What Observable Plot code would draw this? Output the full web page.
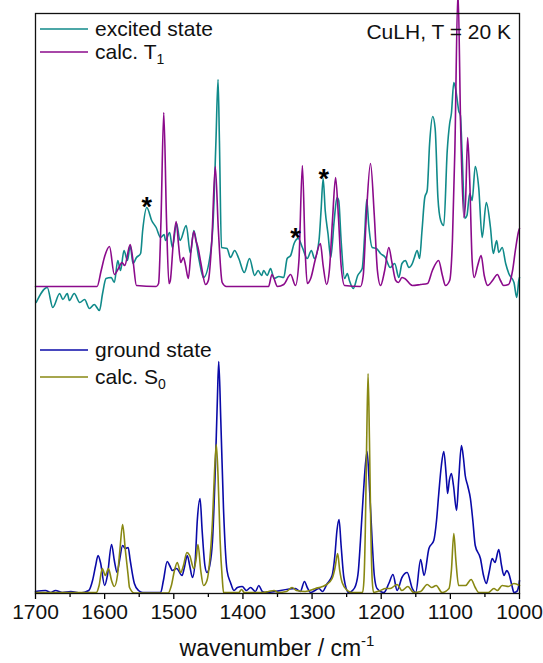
<!DOCTYPE html>
<html>
<head>
<meta charset="utf-8">
<script src="https://cdn.jsdelivr.net/npm/d3@7"></script>
<script src="https://cdn.jsdelivr.net/npm/@observablehq/plot@0.6"></script>
<style>
  html, body { margin: 0; padding: 0; background: #fff; }
  svg { font-family: "Liberation Sans", Arial, sans-serif; }
</style>
</head>
<body>
<div id="chart"></div>
<script>
// ---------- data (wavenumber / cm-1, intensity in arbitrary units; offsets included) ----------
const excitedWn = [1699,1683,1675,1665,1660.5,1654,1651,1644,1636,1629,1622,1615,1607.5,1603,1598,1590.5,1586,1581,1577,1572,1567,1563,1559,1554,1548,1545,1539,1532,1525.5,1519,1514,1512,1506,1502,1496,1491,1482,1476,1471,1464,1457,1447,1443,1439,1436,1434,1431,1423,1418,1412,1406,1398,1390.5,1383,1378,1373,1370,1365,1360,1355,1348,1341,1336,1331,1326,1320,1314,1307,1301,1296.5,1290,1287,1284,1281,1277,1273,1268,1264,1261.5,1258,1253,1249,1246,1240.5,1234,1227.5,1224,1221,1218,1213,1207,1201,1194,1187,1180.5,1174.5,1170,1165,1160,1155,1152,1148,1144.5,1141,1137,1133.5,1130,1125.5,1122,1118,1114,1109.5,1104.5,1101,1098.5,1095,1092.5,1090,1088,1085.5,1083,1079,1076,1072,1068.5,1064,1059,1054,1048,1042,1038,1033,1030,1025,1020,1015.5,1008,1004,1001,1000];
const excitedV  = [291,306,286,300,294,300,293,300,291,294,285,289,283,300,315,316,311,333,323,343,333,348,330,336,340,363,386,373,366,356,359,353,361,346,370,353,368,340,363,336,316,340,373,453,514,453,346,345,336,343,335,321,335,318,323,318,323,318,325,315,317,316,335,338,350,355,346,335,343,335,353,383,415,383,360,336,373,396,393,353,315,320,313,305,318,325,358,394,368,346,345,340,336,326,330,316,330,333,326,330,336,343,335,363,396,403,450,477,465,396,373,368,443,470,480,511,505,493,483,478,440,375,378,400,393,427,406,356,391,366,340,353,341,346,330,320,311,296,313,316];

const t1Wn = [1700,1611,1605,1600,1593,1586,1580,1575,1571,1563,1559,1554,1525.5,1522,1518.5,1514.5,1510.5,1507,1505,1501,1496.5,1493,1490,1486,1483,1479,1475,1471,1468,1465,1461,1454,1450,1445,1440,1435.5,1430,1424,1363,1358,1350,1341,1331,1324,1319,1314,1310,1307,1302,1295,1288,1284,1279,1275,1270.5,1266,1262,1258,1253,1230,1226,1221.5,1215.5,1210,1205.5,1201,1195,1189,1184.5,1179,1175,1170,1166,1155,1143,1133,1126,1117,1111.5,1107,1101,1097,1093.5,1089,1085,1080.5,1078,1075,1072,1068.5,1065.5,1060.5,1055.5,1051,1046,1039,1032,1027.5,1023,1016,1010,1006,1001,1000];
const t1V  = [307,307,323,337,347,319,325,331,328,349,333,308,307,310,373,481,373,310,313,348,372,348,331,336,328,315,343,362,353,346,331,309,313,353,427,363,311,307,307,319,307,309,319,308,333,428,343,310,315,335,350,328,309,323,373,416,378,328,308,307,318,378,430,378,323,308,323,346,331,313,311,316,315,308,309,310,323,333,318,308,313,353,443,603,463,376,393,456,413,333,316,328,338,318,308,313,319,313,308,309,323,343,363,365];

const groundWn = [1700,1685.5,1678,1671,1661,1649,1635,1623,1617.5,1613,1609.5,1606,1600,1596,1590,1586,1582,1578.5,1574,1570,1566,1563,1557,1551,1545,1519,1515,1509.5,1506,1502,1496,1488,1485,1480.5,1477,1473,1469,1466,1462,1459,1455,1452,1448,1444,1440,1437,1435,1432,1428,1423,1418,1413,1408,1401,1395,1389,1382,1377,1372,1367,1324,1317,1311,1307,1302,1290,1285,1278,1271,1267,1264,1261,1258,1254,1247,1241.5,1237,1233,1230,1226,1220.5,1217.5,1213,1210,1206,1196,1189,1183,1177,1170,1162.5,1155,1150,1143,1138,1131,1124,1120,1117,1113,1109.5,1106,1104,1101.5,1098.5,1095.5,1091,1088,1084,1081,1078.5,1075,1071,1067.5,1064,1056.5,1052,1048,1044,1039.5,1035.5,1030,1026,1022.5,1018.5,1015.5,1011,1008,1004,1001,1000];
const groundV  = [2,3,1,3,1,2,0.5,3,13,28,38,31,8,18,49,33,21,33,48,45,46,33,10,3,1,1,13,32,28,23,25,18,25,38,28,16,33,73,95,63,28,21,28,53,123,193,232,173,83,23,11,3,6,7,3,6,2,8,2,1,5,2,12,6,1,5,2,10,18,38,63,74,48,16,1,3,8,23,53,98,142,113,51,18,5,1,10,19,3,16,21,5,1,34,18,45,53,73,98,128,142,118,100,113,120,108,83,113,148,135,118,108,95,73,48,35,18,10,21,35,31,44,28,18,23,20,8,1,2,8,13];

const s0Wn = [1700,1612,1608,1603.5,1599,1594.5,1590,1586,1581.5,1578,1574,1570,1566,1564,1557,1508,1503.5,1499,1495,1490,1486,1481,1477,1471,1468,1465,1461,1457,1452,1448,1444,1441,1438.5,1436,1433,1430,1428,1406,1402,1398,1372,1363,1355,1349,1337,1329,1322.5,1310,1295,1285,1279,1271,1267,1263,1260,1256.5,1249,1242,1227,1225,1223,1221,1219,1217,1215,1213,1211,1201,1194,1187,1177,1170,1161.5,1153,1143,1133.5,1127,1120.5,1112,1102,1098.5,1095,1092,1088,1078,1070,1064,1059,1045,1037,1032,1025,1016,1008,1000];
const s0V  = [1,1,8,25,18,25,13,7,18,43,69,43,18,6,0.5,0.5,8,23,31,21,28,41,38,25,33,49,23,8,13,33,73,123,149,118,53,16,1,1,4,1,1,2,3,1,2,6,3,2,5,7,9,15,25,40,23,11,3,1,1,13,63,153,220,153,63,13,1,3,5,5,9,3,7,1,2,9,6,8,1,5,23,60,33,8,8,14,6,1,1,5,3,8,7,10,8];

// asterisk annotations
const starWn = [1539, 1324, 1283];
const starV  = [393, 362, 421];

// legend / labels
const legendTop    = ["excited state", "calc. T", "1"];
const legendBottom = ["ground state", "calc. S", "0"];
const sampleLabel  = "CuLH, T = 20 K";
const xLabel = ["wavenumber / cm", "-1"];
const majorTicks = [1700,1600,1500,1400,1300,1200,1100,1000];
const minorTicks = [1650,1550,1450,1350,1250,1150,1050];

const colors = { excited: "#108a8a", t1: "#8b0a8b", ground: "#0a0aa8", s0: "#888812" };

// ---------- tables ----------
const toRows = (wn, v) => wn.map((w, i) => ({ wn: w, v: v[i] }));
const excited = toRows(excitedWn, excitedV);
const t1 = toRows(t1Wn, t1V);
const ground = toRows(groundWn, groundV);
const s0 = toRows(s0Wn, s0V);
const stars = toRows(starWn, starV);

const W = 543, H = 663;
const mL = 35, mR = 24, mT = 13, mB = 70;
const lw = 1.6;

const chart = Plot.plot({
  width: W, height: H,
  marginLeft: mL, marginRight: mR, marginTop: mT, marginBottom: mB,
  style: { fontFamily: "Liberation Sans, Arial, sans-serif", background: "white", overflow: "visible" },
  x: { domain: [1700, 1000] },
  y: { domain: [0, 580], axis: null },
  marks: [
    Plot.line(excited, { x: "wn", y: "v", stroke: colors.excited, strokeWidth: lw, curve: "monotone-x" }),
    Plot.line(t1, { x: "wn", y: "v", stroke: colors.t1, strokeWidth: lw, curve: "monotone-x" }),
    Plot.line(ground, { x: "wn", y: "v", stroke: colors.ground, strokeWidth: lw, curve: "monotone-x" }),
    Plot.line(s0, { x: "wn", y: "v", stroke: colors.s0, strokeWidth: lw, curve: "monotone-x" }),
    Plot.text(stars, { x: "wn", y: "v", text: () => "*", fontSize: 27, fontWeight: "bold", fill: "black", dy: 7 }),
    Plot.axisX({ ticks: minorTicks, tickSize: 4, tickFormat: null, text: null, label: null, strokeWidth: 1.3 }),
    Plot.axisX({ ticks: majorTicks, tickSize: 6, tickPadding: 5, tickFormat: d => String(d), fontSize: 21, label: null, strokeWidth: 1.3, fill: "#111" }),
    Plot.frame({ stroke: "#111", strokeWidth: 1.3 })
  ]
});

const svg = d3.select(chart);
const fontFam = "Liberation Sans, Arial, sans-serif";

function legendEntry(y, color, label, sub) {
  svg.append("line").attr("x1", 40).attr("x2", 88).attr("y1", y).attr("y2", y)
    .attr("stroke", color).attr("stroke-width", lw);
  const t = svg.append("text").attr("x", 95).attr("y", y + 7).attr("text-anchor", "start")
    .attr("font-size", 21).attr("font-family", fontFam).attr("fill", "#111");
  t.append("tspan").text(label);
  if (sub) t.append("tspan").attr("font-size", 14).attr("dy", 5).text(sub);
}
legendEntry(29, colors.excited, legendTop[0]);
legendEntry(52, colors.t1, legendTop[1], legendTop[2]);
legendEntry(350, colors.ground, legendBottom[0]);
legendEntry(377, colors.s0, legendBottom[1], legendBottom[2]);

svg.append("text").attr("x", 511).attr("y", 39).attr("text-anchor", "end")
  .attr("font-size", 21).attr("font-family", fontFam).attr("fill", "#111").text(sampleLabel);

const xl = svg.append("text").attr("x", 277).attr("y", 656).attr("text-anchor", "middle")
  .attr("font-size", 23).attr("font-family", fontFam).attr("fill", "#111");
xl.append("tspan").text(xLabel[0]);
xl.append("tspan").attr("font-size", 15).attr("dy", -10).text(xLabel[1]);

document.getElementById("chart").appendChild(chart);
</script>
</body>
</html>
